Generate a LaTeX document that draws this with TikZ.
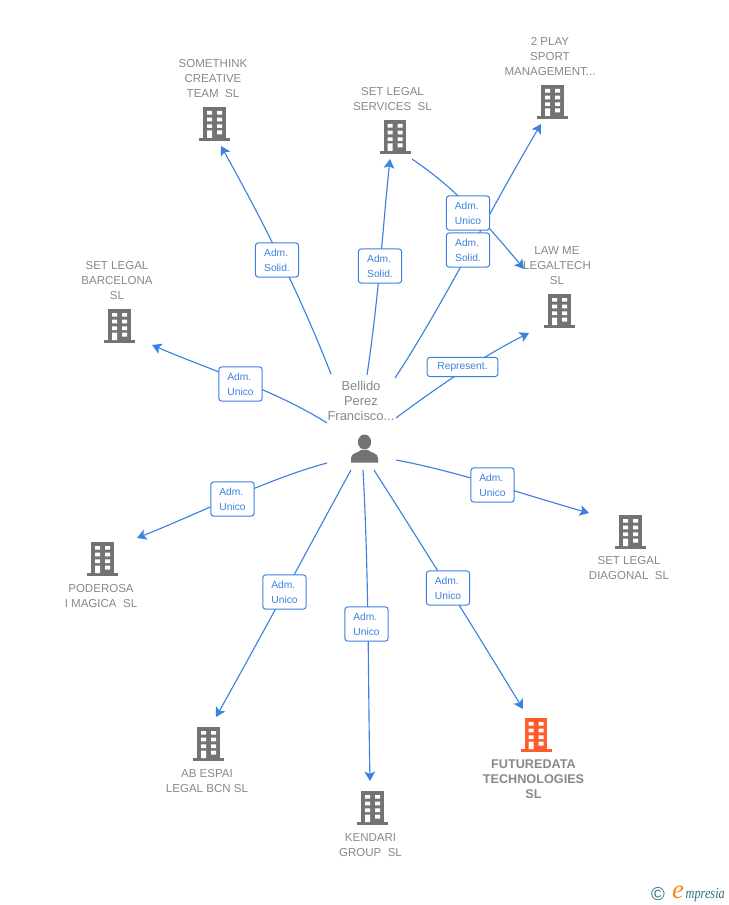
\documentclass[tikz,border=0pt]{standalone}
\usepackage{fontspec}
\setmainfont{Liberation Sans}
\newfontfamily\logofont{Liberation Serif}
\usetikzlibrary{arrows.meta}
\definecolor{edgeblue}{HTML}{3B82E0}
\definecolor{txtgray}{HTML}{888888}
\definecolor{bldgray}{HTML}{737373}
\definecolor{hot}{HTML}{FF5C2E}
\definecolor{logoteal}{HTML}{2F6F86}
\definecolor{orng}{HTML}{F08A1D}
\tikzset{
  linkline/.style={draw=edgeblue,line width=0.85pt,-{Stealth[length=7pt,width=8pt,inset=1.6pt]}},
  tagbox/.style={draw=edgeblue,fill=white,rounded corners=2.2pt,line width=0.75pt,text=edgeblue,font=\fontsize{7.7pt}{11.25pt}\selectfont,align=left,inner sep=0pt,minimum width=32.5pt,minimum height=25.7pt},
  entname/.style={text=txtgray,font=\fontsize{8.65pt}{11.25pt}\selectfont,align=center,inner sep=0pt},
  pics/office/.style={code={
    \fill[#1] (-11.3,0) rectangle (11.3,31);
    \fill[#1] (-15.5,31) rectangle (15.5,34);
    \fill[white] (-7.5,4) rectangle (-2.5,7.7) (2.5,4) rectangle (7.5,7.7)
      (-7.5,10.7) rectangle (-2.5,14.3) (2.5,10.7) rectangle (7.5,14.3)
      (-7.5,17.3) rectangle (-2.5,21) (2.5,17.3) rectangle (7.5,21)
      (-7.5,23.5) rectangle (-2.5,31) (2.5,23.5) rectangle (7.5,27.5);
  }}
}
\begin{document}
\begin{tikzpicture}[x=0.75pt,y=-0.75pt]
\useasboundingbox (0,0) rectangle (728,905);
% free ends of the connectors
\coordinate (s1) at (331,374); \coordinate (e1) at (221,146);
\coordinate (s2) at (367,375); \coordinate (e2) at (390,159);
\coordinate (s3) at (395,378); \coordinate (e3) at (541,124);
\coordinate (s4) at (412,159); \coordinate (e4) at (524,269);
\coordinate (s5) at (396,418); \coordinate (e5) at (529,333);
\coordinate (s6) at (327,423); \coordinate (e6) at (152,345);
\coordinate (s7) at (327,463); \coordinate (e7) at (137,538);
\coordinate (s8) at (351,470); \coordinate (e8) at (216,717);
\coordinate (s9) at (363,470); \coordinate (e9) at (370,781);
\coordinate (s10) at (374,470); \coordinate (e10) at (523,709);
\coordinate (s11) at (396,460); \coordinate (e11) at (589,513);
% connectors
\draw[linkline] (s1) .. controls (300,295) and (265,225) .. (e1);
\draw[linkline] (s2) .. controls (379,295) and (383,225) .. (e2);
\draw[linkline] (s3) .. controls (440,310) and (490,210) .. (e3);
\draw[linkline] (s4) .. controls (450,185) and (475,210) .. (e4);
\draw[linkline] (s5) .. controls (440,385) and (485,355) .. (e5);
\draw[linkline] (s6) .. controls (275,390) and (210,370) .. (e6);
\draw[linkline] (s7) .. controls (270,478) and (195,515) .. (e7);
\draw[linkline] (s8) .. controls (310,545) and (262,635) .. (e8);
\draw[linkline] (s9) .. controls (369,580) and (368,680) .. (e9);
\draw[linkline] (s10) .. controls (425,550) and (475,630) .. (e10);
\draw[linkline] (s11) .. controls (460,472) and (525,495) .. (e11);
% connector labels
\node[tagbox] (t1) at (277,260) {Adm.\\Solid.};
\node[tagbox] (t2) at (380,266) {Adm.\\Solid.};
\node[tagbox] (t3) at (468,250) {Adm.\\Solid.};
\node[tagbox] (t4) at (468,213) {Adm.\\Unico};
\node[tagbox,minimum width=53pt,minimum height=14.5pt] (t5) at (462.5,367) {Represent.};
\node[tagbox] (t6) at (240.5,384) {Adm.\\Unico};
\node[tagbox] (t7) at (232.5,499) {Adm.\\Unico};
\node[tagbox] (t8) at (284.5,592) {Adm.\\Unico};
\node[tagbox] (t9) at (366.5,624) {Adm.\\Unico};
\node[tagbox] (t10) at (448,588) {Adm.\\Unico};
\node[tagbox] (t11) at (492.5,485) {Adm.\\Unico};
% buildings
\pic at (214.5,107) {office=bldgray};
\pic at (395,120) {office=bldgray};
\pic at (552.5,85) {office=bldgray};
\pic at (559.5,294) {office=bldgray};
\pic at (119.5,309) {office=bldgray};
\pic at (630.5,515) {office=bldgray};
\pic at (102.5,542) {office=bldgray};
\pic at (208.5,727) {office=bldgray};
\pic at (372.5,791) {office=bldgray};
\pic at (536,718) {office=hot};
% names
\node[entname] (n1) at (213,78.5) {SOMETHINK\\CREATIVE\\TEAM\ \ SL};
\node[entname] (n2) at (392.5,99) {SET LEGAL\\SERVICES\ \ SL};
\node[entname] (n3) at (550,56.5) {2 PLAY\\SPORT\\MANAGEMENT...};
\node[entname] (n4) at (557,265.5) {LAW ME\\LEGALTECH\\SL};
\node[entname] (n5) at (117,280.5) {SET LEGAL\\BARCELONA\\SL};
\node[entname] (n6) at (629,568) {SET LEGAL\\DIAGONAL\ \ SL};
\node[entname] (n7) at (101,596) {PODEROSA\\I MAGICA\ \ SL};
\node[entname] (n8) at (207,781) {AB ESPAI\\LEGAL BCN SL};
\node[entname] (n9) at (370.5,845) {KENDARI\\GROUP\ \ SL};
\node[entname,font=\fontsize{9.5pt}{11.25pt}\selectfont\bfseries] (n10) at (533.5,779) {FUTUREDATA\\TECHNOLOGIES\\SL};
\node[entname,font=\fontsize{9.7pt}{11.25pt}\selectfont] (n11) at (361,401) {Bellido\\Perez\\Francisco...};
% person
\fill[bldgray] (364.5,442) ellipse (6.6 and 7.5);
\fill[bldgray] (351,462.5) -- (351,458) .. controls (351,453) and (358,453) .. (361,450) -- (368,450) .. controls (371,453) and (378,453) .. (378,458) -- (378,462.5) -- cycle;
% logo
\node[inner sep=0pt,text=logoteal,font=\fontsize{14pt}{14pt}\selectfont] (c) at (658,894) {©};
\node[inner sep=0pt,text=orng,font=\logofont\itshape\fontsize{20pt}{20pt}\selectfont] (l1) at (678,892) {e};
\node[inner sep=0pt,text=logoteal,xscale=0.8,font=\logofont\itshape\fontsize{11.5pt}{11.5pt}\selectfont,anchor=east] (l2) at (725,895) {mpresia};
\end{tikzpicture}
\end{document}
